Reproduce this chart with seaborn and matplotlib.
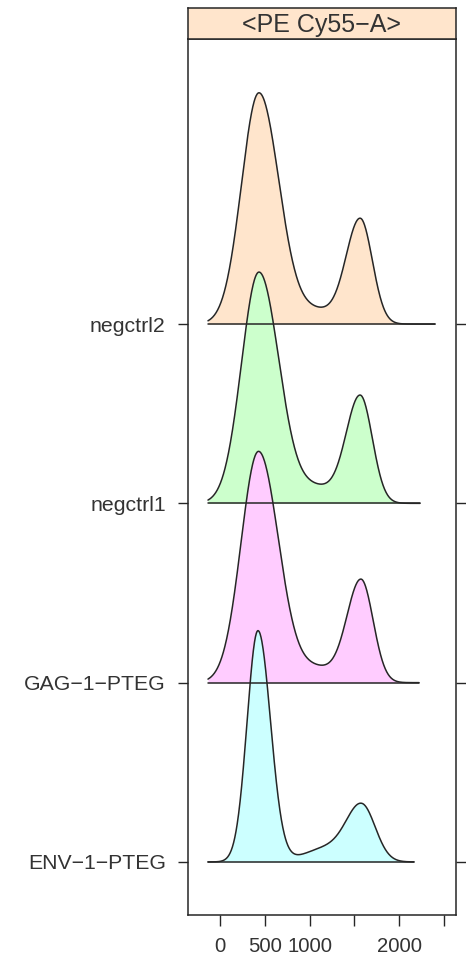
import numpy as np
import pandas as pd
import matplotlib
matplotlib.use("Agg")
import matplotlib.pyplot as plt
import seaborn as sns

# ---- data ----
samples = ["negctrl2", "negctrl1", "GAG−1−PTEG", "ENV−1−PTEG"]  # top to bottom
fill_colors = ["#FFE5CC", "#CCFFCC", "#FFCCFF", "#CCFFFF"]
# density shape components (PE Cy55-A units)
peak1_center = [435, 435, 430, 424]
peak1_sd_left = [195, 195, 195, 122]
peak1_sd_right = [225, 225, 225, 140]
mid_center = [1080, 1080, 1080, 1200]
mid_sd = [200, 200, 200, 250]
mid_height = [0.055, 0.065, 0.06, 0.06]
peak2_center = [1565, 1565, 1574, 1585]
peak2_sd_left = [160, 160, 160, 170]
peak2_sd_right = [135, 135, 135, 150]
peak2_height = [0.455, 0.465, 0.445, 0.235]
range_min = [-134, -134, -134, -134]
range_max = [2400, 2232, 2221, 2165]
x_ticks = [0, 500, 1000, 1500, 2000, 2500]
x_ticklabels = ["0", "500", "1000", "", "2000", ""]
channel = "<PE Cy55−A>"

# ---- styling ----
sns.set_theme(style="white")
plt.rcParams["font.family"] = ["Liberation Sans", "DejaVu Sans"]
W, H = 466, 957
fig = plt.figure(figsize=(W / 100, H / 100), dpi=100)
L, R, B, T = 188, 456, 915, 39
ax = fig.add_axes([L / W, (H - B) / H, (R - L) / W, (B - T) / H])
ax_s = fig.add_axes([L / W, (H - T) / H, (R - L) / W, (T - 8) / H])


def bump(xs, c, sl, sr):
    sd = np.where(xs < c, sl, sr)
    return np.exp(-0.5 * ((xs - c) / sd) ** 2)


scale = 1.29
n = len(samples)
rows = []
for i, s in enumerate(samples):
    base = n - i
    xs = np.linspace(range_min[i], range_max[i], 700)
    d = (bump(xs, peak1_center[i], peak1_sd_left[i], peak1_sd_right[i])
         + mid_height[i] * bump(xs, mid_center[i], mid_sd[i], mid_sd[i])
         + peak2_height[i] * bump(xs, peak2_center[i], peak2_sd_left[i], peak2_sd_right[i]))
    d = d / d.max()
    rows.append(pd.DataFrame({"sample": s, "x": xs, "y": base + scale * d, "base": base}))
df = pd.concat(rows, ignore_index=True)

line_col = "#262626"
text_col = "#333333"
for i, s in enumerate(samples):
    sub = df[df["sample"] == s]
    base = n - i
    ax.fill_between(sub["x"], base, sub["y"], color=fill_colors[i], lw=0, zorder=2 + 2 * i)
    sns.lineplot(data=sub, x="x", y="y", ax=ax, color=line_col, lw=1.1,
                 sort=False, estimator=None, zorder=3 + 2 * i)
for i, s in enumerate(samples):
    base = n - i
    ax.plot([range_min[i], range_max[i]], [base, base], color=line_col, lw=1.1, zorder=20)

ax.set_xlim(-357, 2634)
ax.set_ylim(0.704, 5.59)
ax.set_xticks(x_ticks)
ax.set_xticklabels(x_ticklabels)
ax.set_yticks([n - i for i in range(n)])
ax.set_yticklabels(samples)
ax.set_xlabel("")
ax.set_ylabel("")
ax.tick_params(axis="x", direction="out", length=8, width=1.0, pad=8,
               labelsize=14.6, colors=line_col, labelcolor=text_col, bottom=True, top=False)
ax.tick_params(axis="y", direction="out", length=7, width=1.0, pad=9,
               labelsize=15.3, colors=line_col, labelcolor=text_col,
               left=True, right=True, labelright=False)
for sp in ax.spines.values():
    sp.set_color(line_col)
    sp.set_linewidth(1.1)
    sp.set_visible(True)

ax_s.set_facecolor("#FFE5CC")
ax_s.set_xticks([])
ax_s.set_yticks([])
for sp in ax_s.spines.values():
    sp.set_color(line_col)
    sp.set_linewidth(1.1)
    sp.set_visible(True)
ax_s.text(0.5, 0.45, channel, ha="center", va="center", fontsize=18, color=text_col,
          transform=ax_s.transAxes)

fig.savefig("out.png", dpi=100)
